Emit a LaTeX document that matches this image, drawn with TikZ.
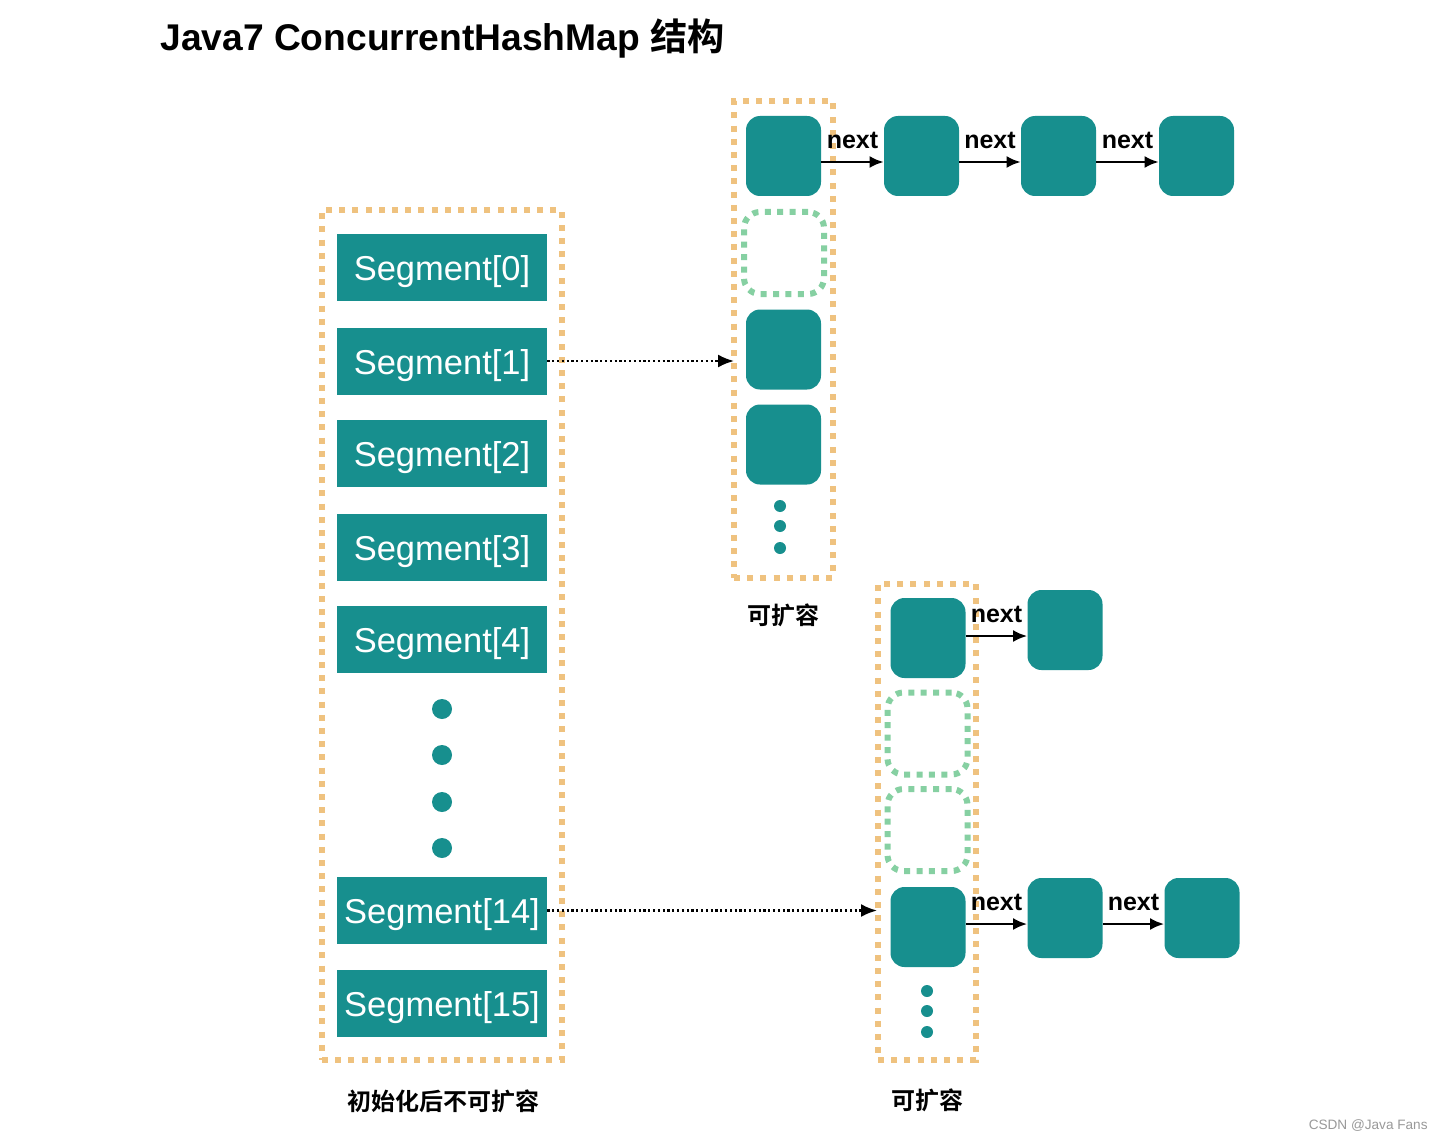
\documentclass[tikz,border=0pt]{standalone}
\usepackage{fontspec}
\setmainfont{Liberation Sans}
\newfontfamily\cjk[BoldFont={Noto Sans CJK SC Bold}]{Noto Sans CJK SC}
\usetikzlibrary{arrows.meta}
\definecolor{teal1}{HTML}{178F8E}
\definecolor{orangedot}{HTML}{EFC27F}
\definecolor{greendot}{HTML}{86D0A2}
\tikzset{
  seg/.style={fill=teal1, minimum width=105pt, minimum height=33.5pt, inner sep=0pt,
    text height=15pt, text depth=2pt,
    text=white, font=\fontsize{17.25pt}{20pt}\selectfont},
  entry/.style={fill=teal1, rounded corners=7pt, minimum width=37.5pt, minimum height=40pt, inner sep=0pt},
  slot/.style={draw=greendot, line width=3pt, dash pattern=on 3pt off 3.2pt, rounded corners=8pt,
    minimum width=40pt, minimum height=41pt, inner sep=0pt},
  obox/.style={draw=orangedot, line width=3pt, dash pattern=on 3pt off 3.6pt, inner sep=0pt},
  dotc/.style={circle, fill=teal1, inner sep=0pt},
  nextarr/.style={-{Latex[length=7pt,width=6pt]}, line width=1.2pt},
  ptr/.style={-{Latex[length=8pt,width=6.5pt]}, line width=1.1pt, dash pattern=on 1.1pt off 1.3pt},
  nextlbl/.style={font=\bfseries\fontsize{12.5pt}{14pt}\selectfont, inner sep=0pt},
  captxt/.style={font=\cjk\bfseries\fontsize{12pt}{14pt}\selectfont, inner sep=0pt}
}
\begin{document}
\begin{tikzpicture}[x=0.5pt,y=-0.5pt]
\useasboundingbox (0,0) rectangle (1444,1139);
\fill[white] (0,0) rectangle (1444,1139);

% title
\node[anchor=base west, inner sep=0pt, font=\bfseries\fontsize{18.6pt}{22pt}\selectfont] (title) at (160,51)
  {Java7 ConcurrentHashMap {\cjk\bfseries 结构}};

% left segment array
\node[obox, minimum width=120pt, minimum height=425pt] (lbox) at (442,635) {};
\node[seg] (s0) at (442,267.5) {Segment[0]};
\node[seg] (s1) at (442,361) {Segment[1]};
\node[seg] (s2) at (442,453.5) {Segment[2]};
\node[seg] (s3) at (442,547) {Segment[3]};
\node[seg] (s4) at (442,639.5) {Segment[4]};
\node[seg] (s14) at (442,910.5) {Segment[14]};
\node[seg] (s15) at (442,1003) {Segment[15]};
\node[dotc, minimum size=10pt] (ld1) at (442,709) {};
\node[dotc, minimum size=10pt] (ld2) at (442,755) {};
\node[dotc, minimum size=10pt] (ld3) at (442,802) {};
\node[dotc, minimum size=10pt] (ld4) at (442,848) {};
\node[captxt] (lcap) at (443,1101) {初始化后不可扩容};

% top hash table
\node[obox, minimum width=49.5pt, minimum height=238.5pt] (tbox) at (783.5,339.5) {};
\node[entry] (t0) at (783.5,156) {};
\node[slot] (tg) at (784,253) {};
\node[entry] (t2) at (783.5,349.5) {};
\node[entry] (t3) at (783.5,444.5) {};
\node[dotc, minimum size=6pt] (td1) at (780,506) {};
\node[dotc, minimum size=6pt] (td2) at (780,526) {};
\node[dotc, minimum size=6pt] (td3) at (780,548) {};
\node[entry] (t0a) at (921.5,156) {};
\node[entry] (t0b) at (1058.5,156) {};
\node[entry] (t0c) at (1196.5,156) {};
\draw[nextarr] ([yshift=-3pt]t0.east) -- node[nextlbl, above=6pt] (n1) {next} ([yshift=-3pt]t0a.west);
\draw[nextarr] ([yshift=-3pt]t0a.east) -- node[nextlbl, above=6pt] (n2) {next} ([yshift=-3pt]t0b.west);
\draw[nextarr] ([yshift=-3pt]t0b.east) -- node[nextlbl, above=6pt] (n3) {next} ([yshift=-3pt]t0c.west);
\node[captxt] (tcap) at (783,615) {可扩容};

% bottom hash table
\node[obox, minimum width=49pt, minimum height=238pt] (bbox) at (927,822) {};
\node[entry] (b0) at (928,638) {};
\node[slot] (bg1) at (927.5,733.5) {};
\node[slot] (bg2) at (927.5,830) {};
\node[entry] (b3) at (928,927) {};
\node[dotc, minimum size=6pt] (bd1) at (927,991) {};
\node[dotc, minimum size=6pt] (bd2) at (927,1011) {};
\node[dotc, minimum size=6pt] (bd3) at (927,1032) {};
\node[entry] (b0a) at (1065,630) {};
\node[entry] (b3a) at (1065,918) {};
\node[entry] (b3b) at (1202,918) {};
\draw[nextarr] ([yshift=1pt]b0.east) -- node[nextlbl, above=6pt] (n4) {next} ([yshift=1pt]b0.east -| b0a.west);
\draw[nextarr] ([yshift=1.5pt]b3.east) -- node[nextlbl, above=6pt] (n5) {next} ([yshift=1.5pt]b3.east -| b3a.west);
\draw[nextarr] ([yshift=1.5pt]b3.east -| b3a.east) -- node[nextlbl, above=6pt] (n6) {next} ([yshift=1.5pt]b3.east -| b3b.west);
\node[captxt] (bcap) at (927,1100) {可扩容};

% segment pointers
\draw[ptr] (s1.east) -- ([xshift=1.5pt]s1.east -| tbox.west);
\draw[ptr] (s14.east) -- ([xshift=1pt]s14.east -| bbox.west);

% credit
\node[anchor=base east, inner sep=0pt, text=black!40, font=\fontsize{6.8pt}{8pt}\selectfont] (credit) at (1428,1129) {CSDN @Java Fans};
\end{tikzpicture}
\end{document}
